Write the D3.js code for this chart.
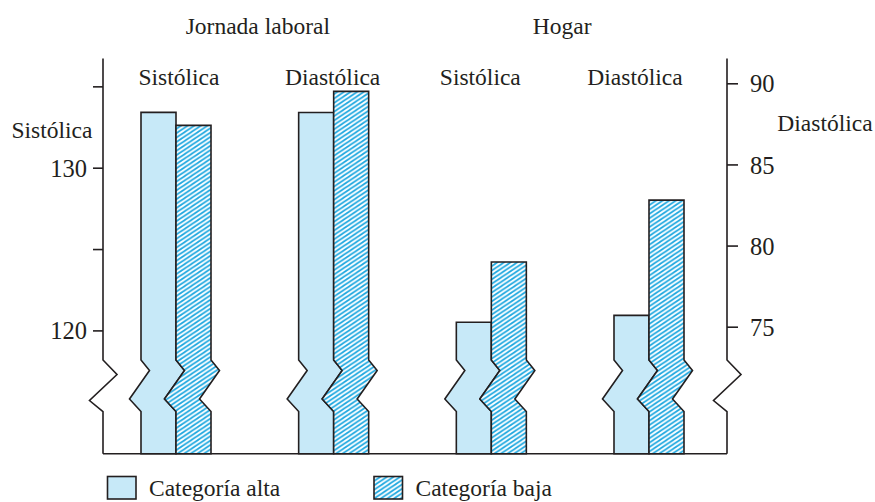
<!DOCTYPE html>
<html>
<head>
<meta charset="utf-8">
<script src="https://cdn.jsdelivr.net/npm/d3@7"></script>
<style>
  html, body { margin: 0; padding: 0; background: #fff; }
  svg { display: block; }
  text { font-family: "Liberation Serif", "DejaVu Serif", serif; fill: #231f20; }
</style>
</head>
<body>
<svg id="chart" width="875" height="502"></svg>
<script>
// ---- data ----
const groups = ["Jornada laboral", "Hogar"];
const categories = ["JL-Sistólica", "JL-Diastólica", "H-Sistólica", "H-Diastólica"];
const categoryLabels = ["Sistólica", "Diastólica", "Sistólica", "Diastólica"];
const categoryGroup = ["Jornada laboral", "Jornada laboral", "Hogar", "Hogar"];
const categoryAxis = ["left", "right", "left", "right"];
const series = ["Categoría alta", "Categoría baja"];
const altaValues = [133.4, 88.2, 120.5, 75.7];
const bajaValues = [132.6, 89.5, 124.2, 82.8];
const leftTicks = [120, 125, 130, 135];
const leftTickLabels = ["120", "", "130", ""];
const rightTicks = [75, 80, 85, 90];
const rightTickLabels = ["75", "80", "85", "90"];
const leftAxisTitle = "Sistólica";
const rightAxisTitle = "Diastólica";

// ---- layout ----
const svg = d3.select("#chart");
const axisLeftX = 103, axisRightX = 727;
const baseY = 453.7, topY = 58.5;
const ink = "#231f20";
const altaFill = "#c7e9f8";
const hatchColor = "#1ea8e0";
const fs = 23.5;

const x0 = d3.scaleBand().domain(categories).range([103, 722]).paddingInner(0.556).paddingOuter(0.241);
const x1 = d3.scaleBand().domain(series).range([0, x0.bandwidth()]);
const yLeft = d3.scaleLinear().domain([120, 130]).range([330.4, 167.7]);
const yRight = d3.scaleLinear().domain([75, 90]).range([326.7, 83.3]);

// hatch pattern
const defs = svg.append("defs");
const pat = defs.append("pattern").attr("id", "hatch")
  .attr("patternUnits", "userSpaceOnUse").attr("width", 6.6).attr("height", 4.4);
pat.append("rect").attr("width", 6.6).attr("height", 4.4).attr("fill", "#fff");
pat.append("path").attr("d", "M-3.3,2.2 L3.3,-2.2 M0,4.4 L6.6,0 M3.3,6.6 L9.9,2.2")
  .attr("stroke", hatchColor).attr("stroke-width", 1.7);

// break geometry (pixel offsets)
const brk = { y0: 360, ya: 370.5, yb: 399, y1: 411.5, da: 8.5, db: -11.5 };
const axBrk = { y0: 360, ya: 374.5, yb: 400.5, y1: 411.7, da: 14, db: -13.5 };

function barPath(xl, xr, yt) {
  const p = d3.path();
  p.moveTo(xl, yt);
  p.lineTo(xr, yt);
  p.lineTo(xr, brk.y0);
  p.lineTo(xr + brk.da, brk.ya);
  p.lineTo(xr + brk.db, brk.yb);
  p.lineTo(xr, brk.y1);
  p.lineTo(xr, baseY);
  p.lineTo(xl, baseY);
  p.lineTo(xl, brk.y1);
  p.lineTo(xl + brk.db, brk.yb);
  p.lineTo(xl + brk.da, brk.ya);
  p.lineTo(xl, brk.y0);
  p.closePath();
  return p.toString();
}

function axisLinePath(x) {
  const p = d3.path();
  p.moveTo(x, topY);
  p.lineTo(x, axBrk.y0);
  p.lineTo(x + axBrk.da, axBrk.ya);
  p.lineTo(x + axBrk.db, axBrk.yb);
  p.lineTo(x, axBrk.y1);
  p.lineTo(x, baseY);
  return p.toString();
}

// bars
const barData = [];
categories.forEach((c, i) => {
  const ys = categoryAxis[i] === "left" ? yLeft : yRight;
  barData.push({ cat: c, s: series[0], v: altaValues[i], y: ys });
  barData.push({ cat: c, s: series[1], v: bajaValues[i], y: ys });
});
svg.append("g").selectAll("path").data(barData).join("path")
  .attr("d", d => {
    const xl = x0(d.cat) + x1(d.s);
    return barPath(xl, xl + x1.bandwidth(), d.y(d.v));
  })
  .attr("fill", d => d.s === series[0] ? altaFill : "url(#hatch)")
  .attr("stroke", ink).attr("stroke-width", 1.6).attr("stroke-linejoin", "miter");

// baseline
svg.append("line").attr("x1", axisLeftX).attr("x2", axisRightX)
  .attr("y1", baseY).attr("y2", baseY).attr("stroke", ink).attr("stroke-width", 1.6);

// axis lines with breaks
[axisLeftX, axisRightX].forEach(x => {
  svg.append("path").attr("d", axisLinePath(x)).attr("fill", "none")
    .attr("stroke", ink).attr("stroke-width", 1.6);
});

// left axis ticks
const gl = svg.append("g").attr("transform", `translate(${axisLeftX},0)`)
  .call(d3.axisLeft(yLeft).tickValues(leftTicks).tickSize(10).tickPadding(6)
    .tickFormat((d, i) => leftTickLabels[i]));
gl.select(".domain").remove();
gl.selectAll(".tick line").attr("stroke", ink).attr("stroke-width", 1.6);
gl.selectAll(".tick text").attr("font-size", 24.5).attr("font-family", "Liberation Serif").attr("fill", ink)
  .attr("dy", "0.35em");

// right axis ticks
const gr = svg.append("g").attr("transform", `translate(${axisRightX},0)`)
  .call(d3.axisRight(yRight).tickValues(rightTicks).tickSize(11).tickPadding(12)
    .tickFormat((d, i) => rightTickLabels[i]));
gr.select(".domain").remove();
gr.selectAll(".tick line").attr("stroke", ink).attr("stroke-width", 1.6);
gr.selectAll(".tick text").attr("font-size", 24.5).attr("font-family", "Liberation Serif").attr("fill", ink)
  .attr("dy", "0.35em");

// axis titles
svg.append("text").attr("x", 52).attr("y", 138).attr("text-anchor", "middle")
  .attr("font-size", fs).text(leftAxisTitle);
svg.append("text").attr("x", 825).attr("y", 131).attr("text-anchor", "middle")
  .attr("font-size", fs).text(rightAxisTitle);

// category labels
svg.append("g").selectAll("text").data(categories).join("text")
  .attr("x", (d, i) => x0(d) + x0.bandwidth() / 2 + [3, -1, -11, -14][i])
  .attr("y", 85).attr("text-anchor", "middle").attr("font-size", fs)
  .text((d, i) => categoryLabels[i]);

// group labels
svg.append("g").selectAll("text").data(groups).join("text")
  .attr("x", g => {
    const cs = categories.filter((c, i) => categoryGroup[i] === g);
    const a = x0(cs[0]), b = x0(cs[cs.length - 1]) + x0.bandwidth();
    return (a + b) / 2 + (g === groups[0] ? 3 : -8);
  })
  .attr("y", 34).attr("text-anchor", "middle").attr("font-size", fs)
  .text(d => d);

// legend
const legend = svg.append("g");
const legX = [107.5, 374];
series.forEach((s, i) => {
  legend.append("rect").attr("x", legX[i]).attr("y", 476.5).attr("width", 28.5).attr("height", 22.5)
    .attr("fill", i === 0 ? altaFill : "url(#hatch)").attr("stroke", ink).attr("stroke-width", 1.6);
  legend.append("text").attr("x", legX[i] + 41.5).attr("y", 495.5).attr("font-size", fs).text(s);
});
</script>
</body>
</html>
